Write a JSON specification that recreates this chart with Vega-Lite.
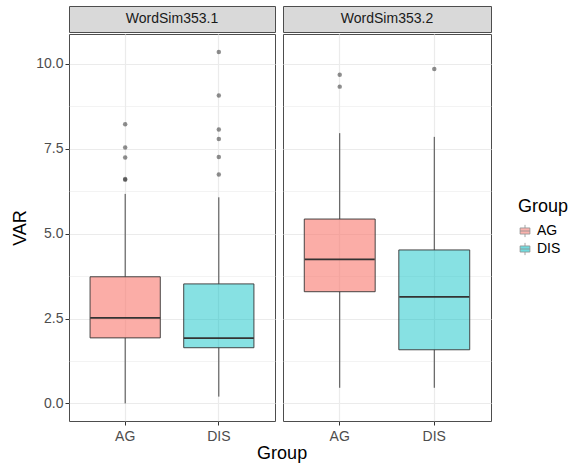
{
  "$schema": "https://vega.github.io/schema/vega-lite/v6.json",
  "background": "white",
  "padding": {"left": 11, "top": 5, "right": 5, "bottom": 2},
  "datasets": {
    "stats": [
      {"panel": "WordSim353.1", "Group": "AG", "lower": 0.0, "q1": 1.93, "median": 2.52, "q3": 3.73, "upper": 6.17},
      {"panel": "WordSim353.1", "Group": "DIS", "lower": 0.2, "q1": 1.64, "median": 1.92, "q3": 3.52, "upper": 6.07},
      {"panel": "WordSim353.2", "Group": "AG", "lower": 0.46, "q1": 3.29, "median": 4.24, "q3": 5.43, "upper": 7.96},
      {"panel": "WordSim353.2", "Group": "DIS", "lower": 0.46, "q1": 1.58, "median": 3.14, "q3": 4.52, "upper": 7.85}
    ],
    "outliers": [
      {"panel": "WordSim353.1", "Group": "AG", "VAR": 8.22},
      {"panel": "WordSim353.1", "Group": "AG", "VAR": 7.54},
      {"panel": "WordSim353.1", "Group": "AG", "VAR": 7.24},
      {"panel": "WordSim353.1", "Group": "AG", "VAR": 6.59},
      {"panel": "WordSim353.1", "Group": "AG", "VAR": 6.61},
      {"panel": "WordSim353.1", "Group": "DIS", "VAR": 10.35},
      {"panel": "WordSim353.1", "Group": "DIS", "VAR": 9.07},
      {"panel": "WordSim353.1", "Group": "DIS", "VAR": 8.07},
      {"panel": "WordSim353.1", "Group": "DIS", "VAR": 7.79},
      {"panel": "WordSim353.1", "Group": "DIS", "VAR": 7.26},
      {"panel": "WordSim353.1", "Group": "DIS", "VAR": 6.74},
      {"panel": "WordSim353.2", "Group": "AG", "VAR": 9.68},
      {"panel": "WordSim353.2", "Group": "AG", "VAR": 9.33},
      {"panel": "WordSim353.2", "Group": "DIS", "VAR": 9.85}
    ],
    "strips": [
      {"panel": "WordSim353.1"},
      {"panel": "WordSim353.2"}
    ]
  },
  "title": {"text": "Group", "orient": "bottom", "anchor": "middle", "frame": "bounds", "dx": -8, "fontSize": 18, "fontWeight": "normal", "font": "Liberation Sans", "color": "#000000", "offset": 1},
  "spacing": 6,
  "hconcat": [
    {
      "spacing": 0,
      "vconcat": [
        {
          "width": 206, "height": 26,
          "data": {"name": "strips"},
          "transform": [{"filter": "datum.panel === 'WordSim353.1'"}],
          "view": {"fill": "#D9D9D9", "stroke": "#4D4D4D"},
          "mark": {"type": "text", "fontSize": 14, "color": "#1A1A1A", "font": "Liberation Sans"},
          "encoding": {"text": {"field": "panel"}}
        },
        {
          "width": 206, "height": 387,
          "view": {"stroke": "#4D4D4D"},
          "resolve": {"scale": {"y": "shared"}, "axis": {"y": "independent"}},
          "encoding": {
            "x": {"field": "Group", "type": "nominal", "scale": {"paddingInner": 0.25, "paddingOuter": 0.225},
                  "axis": {"title": null, "bandPosition": 0.5, "grid": true, "gridColor": "#EBEBEB", "gridWidth": 1.2, "labelAngle": 0, "tickColor": "#333333", "tickSize": 4, "domain": false, "labelFontSize": 14, "labelColor": "#4D4D4D", "labelFont": "Liberation Sans", "labelPadding": 4}}
          },
          "layer": [
            {
              "data": {"name": "stats"},
              "transform": [{"filter": "datum.panel === 'WordSim353.1'"}],
              "mark": {"type": "rule", "color": "#333333", "strokeWidth": 0.9},
              "encoding": {
                "y": {"field": "lower", "type": "quantitative", "scale": {"domain": [-0.518, 10.88], "nice": false, "zero": false},
                      "axis": {"values": [1.25, 3.75, 6.25, 8.75], "labels": false, "ticks": false, "domain": false, "title": null, "grid": true, "gridColor": "#EBEBEB", "gridWidth": 0.6, "orient": "left"}},
                "y2": {"field": "q1"}
              }
            },
            {
              "data": {"name": "stats"},
              "transform": [{"filter": "datum.panel === 'WordSim353.1'"}],
              "mark": {"type": "rule", "color": "#333333", "strokeWidth": 0.9},
              "encoding": {
                "y": {"field": "q3", "type": "quantitative", "axis": null},
                "y2": {"field": "upper"}
              }
            },
            {
              "data": {"name": "stats"},
              "transform": [{"filter": "datum.panel === 'WordSim353.1'"}],
              "mark": {"type": "bar", "stroke": "#333333", "strokeWidth": 0.9},
              "encoding": {
                "y": {"field": "q1", "type": "quantitative",
                      "axis": {"values": [0, 2.5, 5, 7.5, 10], "format": ".1f", "title": "VAR", "titleFontSize": 18, "titleFontWeight": "normal", "titleColor": "#000000", "titleFont": "Liberation Sans", "labelFontSize": 14, "labelColor": "#4D4D4D", "labelFont": "Liberation Sans", "tickColor": "#333333", "tickSize": 4, "domain": false, "grid": true, "gridColor": "#EBEBEB", "gridWidth": 1.2, "labelPadding": 2, "titlePadding": 6, "orient": "left"}},
                "y2": {"field": "q3"},
                "fillOpacity": {"field": "Group", "type": "nominal", "scale": {"domain": ["AG", "DIS"], "range": [0.6, 0.47]}, "legend": null},
                "fill": {"field": "Group", "type": "nominal", "scale": {"domain": ["AG", "DIS"], "range": ["#F8766D", "#00BFC4"]},
                         "legend": {"title": "Group", "orient": "none", "legendX": 449, "legendY": 192, "titleFontSize": 18, "titleFontWeight": "normal", "titleFont": "Liberation Sans", "titleColor": "#000000", "titlePadding": 8, "labelFontSize": 14, "labelFont": "Liberation Sans", "labelColor": "#000000", "labelOffset": 5, "rowPadding": 2,
                                    "symbolType": "M-0.8,-0.5H0.8V0.5H-0.8Z M-0.8,0H0.8 M0,-1V-0.5 M0,0.5V1", "symbolSize": 150, "symbolStrokeColor": "#333333", "symbolStrokeWidth": 0.8, "symbolOpacity": 0.55}}
              }
            },
            {
              "data": {"name": "stats"},
              "transform": [{"filter": "datum.panel === 'WordSim353.1'"}],
              "mark": {"type": "tick", "color": "#333333", "size": 70, "thickness": 1.8, "opacity": 1},
              "encoding": {
                "y": {"field": "median", "type": "quantitative", "axis": null}
              }
            },
            {
              "data": {"name": "outliers"},
              "transform": [{"filter": "datum.panel === 'WordSim353.1'"}],
              "mark": {"type": "circle", "color": "#333333", "opacity": 0.55, "size": 20},
              "encoding": {
                "y": {"field": "VAR", "type": "quantitative", "axis": null}
              }
            }
          ]
        }
      ]
    },
    {
      "spacing": 0,
      "vconcat": [
        {
          "width": 208, "height": 26,
          "data": {"name": "strips"},
          "transform": [{"filter": "datum.panel === 'WordSim353.2'"}],
          "view": {"fill": "#D9D9D9", "stroke": "#4D4D4D"},
          "mark": {"type": "text", "fontSize": 14, "color": "#1A1A1A", "font": "Liberation Sans"},
          "encoding": {"text": {"field": "panel"}}
        },
        {
          "width": 208, "height": 387,
          "view": {"stroke": "#4D4D4D"},
          "resolve": {"scale": {"y": "shared"}, "axis": {"y": "independent"}},
          "encoding": {
            "x": {"field": "Group", "type": "nominal", "scale": {"paddingInner": 0.25, "paddingOuter": 0.225},
                  "axis": {"title": null, "bandPosition": 0.5, "grid": true, "gridColor": "#EBEBEB", "gridWidth": 1.2, "labelAngle": 0, "tickColor": "#333333", "tickSize": 4, "domain": false, "labelFontSize": 14, "labelColor": "#4D4D4D", "labelFont": "Liberation Sans", "labelPadding": 4}}
          },
          "layer": [
            {
              "data": {"name": "stats"},
              "transform": [{"filter": "datum.panel === 'WordSim353.2'"}],
              "mark": {"type": "rule", "color": "#333333", "strokeWidth": 0.9},
              "encoding": {
                "y": {"field": "lower", "type": "quantitative", "scale": {"domain": [-0.518, 10.88], "nice": false, "zero": false},
                      "axis": {"values": [1.25, 3.75, 6.25, 8.75], "labels": false, "ticks": false, "domain": false, "title": null, "grid": true, "gridColor": "#EBEBEB", "gridWidth": 0.6, "orient": "left"}},
                "y2": {"field": "q1"}
              }
            },
            {
              "data": {"name": "stats"},
              "transform": [{"filter": "datum.panel === 'WordSim353.2'"}],
              "mark": {"type": "rule", "color": "#333333", "strokeWidth": 0.9},
              "encoding": {
                "y": {"field": "q3", "type": "quantitative", "axis": null},
                "y2": {"field": "upper"}
              }
            },
            {
              "data": {"name": "stats"},
              "transform": [{"filter": "datum.panel === 'WordSim353.2'"}],
              "mark": {"type": "bar", "stroke": "#333333", "strokeWidth": 0.9},
              "encoding": {
                "y": {"field": "q1", "type": "quantitative",
                      "axis": {"values": [0, 2.5, 5, 7.5, 10], "labels": false, "ticks": false, "title": null, "domain": false, "grid": true, "gridColor": "#EBEBEB", "gridWidth": 1.2, "orient": "left"}},
                "y2": {"field": "q3"},
                "fillOpacity": {"field": "Group", "type": "nominal", "scale": {"domain": ["AG", "DIS"], "range": [0.6, 0.47]}, "legend": null},
                "fill": {"field": "Group", "type": "nominal", "scale": {"domain": ["AG", "DIS"], "range": ["#F8766D", "#00BFC4"]}, "legend": null}
              }
            },
            {
              "data": {"name": "stats"},
              "transform": [{"filter": "datum.panel === 'WordSim353.2'"}],
              "mark": {"type": "tick", "color": "#333333", "size": 70, "thickness": 1.8, "opacity": 1},
              "encoding": {
                "y": {"field": "median", "type": "quantitative", "axis": null}
              }
            },
            {
              "data": {"name": "outliers"},
              "transform": [{"filter": "datum.panel === 'WordSim353.2'"}],
              "mark": {"type": "circle", "color": "#333333", "opacity": 0.55, "size": 20},
              "encoding": {
                "y": {"field": "VAR", "type": "quantitative", "axis": null}
              }
            }
          ]
        }
      ]
    }
  ],
  "config": {
    "font": "Liberation Sans"
  }
}
